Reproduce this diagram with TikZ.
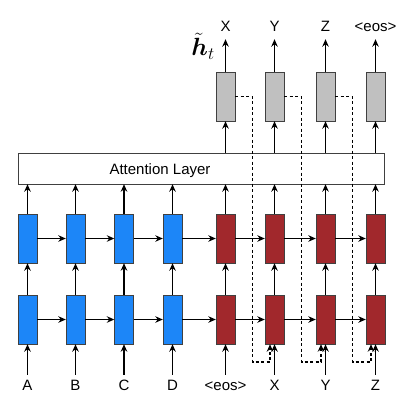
\documentclass[tikz,border=0pt]{standalone}
\usepackage{amsmath, bm}
\usepackage{fontspec}
\setmainfont{Liberation Sans}
\usetikzlibrary{arrows.meta, positioning, calc}

\begin{document}
\begin{tikzpicture}[x=1pt, y=-1pt,
    cell/.style={rectangle, draw=black!75, minimum width=19pt, minimum height=49pt, inner sep=0pt},
    arrow/.style={-{Stealth[length=7.5pt, width=6.5pt]}, line width=1.2pt},
    feed/.style={-{Stealth[length=7.5pt, width=6.5pt]}, line width=1.5pt, dash pattern=on 3pt off 2.5pt},
    lbl/.style={font=\fontsize{15}{18}\selectfont, inner sep=0pt, text height=11pt, text depth=0pt}]

    % Define colors
    \definecolor{enccolor}{RGB}{28,134,248}
    \definecolor{deccolor}{RGB}{161,40,44}
    \definecolor{outcolor}{RGB}{192,192,192}

    \useasboundingbox (0,0) rectangle (412,400);

    % Encoder cells
    \foreach \i/\x in {1/27.5, 2/75.5, 3/124, 4/172.5} {
        \node[cell, fill=enccolor] (lo\i) at (\x,319.5) {};
        \node[cell, fill=enccolor] (up\i) at (\x,238.5) {};
    }
    % Decoder cells
    \foreach \i/\x in {5/225.5, 6/274.5, 7/325.5, 8/375.5} {
        \node[cell, fill=deccolor] (lo\i) at (\x,319.5) {};
        \node[cell, fill=deccolor] (up\i) at (\x,238.5) {};
        \node[cell, fill=outcolor] (out\i) at (\x,96.5) {};
    }

    % Attention layer
    \node[draw=black!75, minimum width=366pt, minimum height=31pt] (att) at (201,168.5) {};
    \node[lbl] (attlbl) at (160,168.5) {Attention Layer};

    % Inputs and outputs
    \foreach \i/\t in {1/A, 2/B, 3/C, 4/D, 5/{<eos>}, 6/X, 7/Y, 8/Z} {
        \path (lo\i) ++(0,65) node[lbl] (in\i) {\t};
        \draw[arrow, shorten <=4pt] (in\i) -- (lo\i);
        \draw[arrow] (lo\i) -- (up\i);
        \draw[arrow] (up\i) -- (up\i |- att.south);
    }
    \foreach \i/\t in {5/X, 6/Y, 7/Z, 8/{<eos>}} {
        \path (out\i) ++(0,-71) node[lbl] (y\i) {\t};
        \draw[arrow] (out\i |- att.north) -- (out\i);
        \draw[arrow, shorten >=8pt] (out\i) -- (y\i);
    }
    \node[inner sep=0pt] (htl) at (203,46) {\fontsize{24}{28}\selectfont$\tilde{\bm{h}}_t$};

    % Recurrent connections
    \foreach \i [count=\j from 2] in {1,...,7} {
        \draw[arrow] (lo\i) -- (lo\j);
        \draw[arrow] (up\i) -- (up\j);
    }

    % Feeding outputs back as inputs
    \foreach \i [count=\j from 6] in {5,6,7} {
        \draw[feed] (out\i.east) -- ++(17.5,0) |- ($(lo\j.south)+(-4.5,18)$) -- ($(lo\j.south)+(-4.5,0)$);
    }

\end{tikzpicture}
\end{document}
